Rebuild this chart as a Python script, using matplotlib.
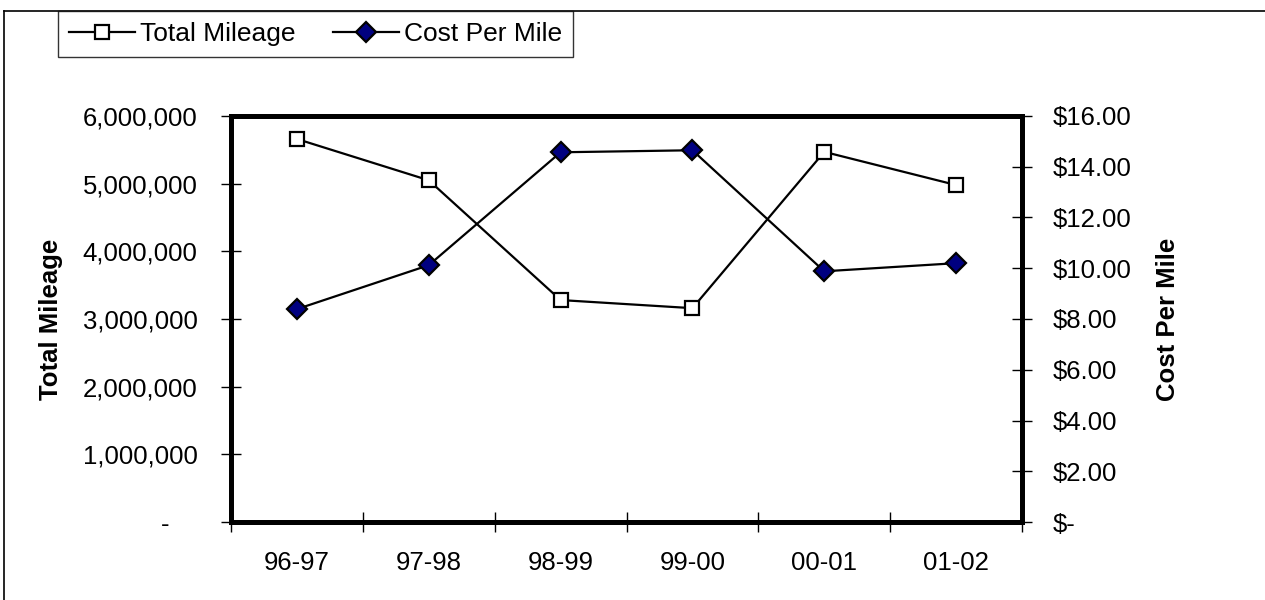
import matplotlib.pyplot as plt
from matplotlib.lines import Line2D

plt.rcParams['font.family'] = ['Liberation Sans', 'DejaVu Sans']

# data
years = ['96-97', '97-98', '98-99', '99-00', '00-01', '01-02']
total_mileage = [5660000, 5050000, 3280000, 3160000, 5470000, 4980000]
cost_per_mile = [8.39, 10.12, 14.57, 14.65, 9.88, 10.20]

mileage_ticks = [0, 1000000, 2000000, 3000000, 4000000, 5000000, 6000000]
mileage_labels = ['-    ', '1,000,000', '2,000,000', '3,000,000',
                  '4,000,000', '5,000,000', '6,000,000']
cost_ticks = [0, 2, 4, 6, 8, 10, 12, 14, 16]
cost_labels = ['$-', '$2.00', '$4.00', '$6.00', '$8.00', '$10.00',
               '$12.00', '$14.00', '$16.00']

fs = 18.5

fig = plt.figure(figsize=(12.65, 6.0), dpi=100)
ax = fig.add_axes([231 / 1265, 78 / 600, (1022 - 231) / 1265, (522 - 116) / 600])
ax2 = ax.twinx()

x = [i + 0.5 for i in range(len(years))]

ax.plot(x, total_mileage, color='black', lw=1.6, marker='s', ms=10,
        mfc='white', mec='black', mew=1.6, zorder=3)
ax2.plot(x, cost_per_mile, color='black', lw=1.6, marker='D', ms=10,
         mfc='#000080', mec='black', mew=1.6, zorder=3)

ax.set_xlim(0, len(years))
ax.set_ylim(0, 6000000)
ax2.set_ylim(0, 16)

# category boundaries get the ticks, labels sit in the middle
ax.set_xticks(range(len(years) + 1))
ax.set_xticklabels([])
ax.set_xticks(x, minor=True)
ax.set_xticklabels(years, minor=True, fontsize=fs)
ax.tick_params(axis='x', which='major', direction='inout', length=14, width=1)
ax.tick_params(axis='x', which='minor', length=0, pad=21)

ax.set_yticks(mileage_ticks)
ax.set_yticklabels(mileage_labels, fontsize=fs)
ax.tick_params(axis='y', direction='inout', length=14, width=1, pad=17)

ax2.set_yticks(cost_ticks)
ax2.set_yticklabels(cost_labels, fontsize=fs)
ax2.tick_params(axis='y', direction='inout', length=14, width=1, pad=15)

for a in (ax, ax2):
    for s in a.spines.values():
        s.set_linewidth(3.5)

ax.set_ylabel('Total Mileage', fontsize=fs, fontweight='bold', labelpad=14)
ax2.set_ylabel('Cost Per Mile', fontsize=fs, fontweight='bold', labelpad=18)

handles = [
    Line2D([], [], color='black', lw=1.6, marker='s', ms=10, mfc='white',
           mec='black', mew=1.6),
    Line2D([], [], color='black', lw=1.6, marker='D', ms=10, mfc='#000080',
           mec='black', mew=1.6),
]
leg = fig.legend(handles, ['Total Mileage', 'Cost Per Mile'], ncol=2,
                 loc='upper left', bbox_to_anchor=(58 / 1265, 1 - 11 / 600),
                 fontsize=19, frameon=True, fancybox=False, shadow=False,
                 handlelength=2.5, handletextpad=0.2, columnspacing=1.4,
                 borderpad=0.42, borderaxespad=0)
leg.get_frame().set_edgecolor('black')
leg.get_frame().set_linewidth(1.0)

# outer chart border (only top and left visible)
fig.add_artist(Line2D([4 / 1265, 4 / 1265], [0, 1 - 11 / 600],
                      transform=fig.transFigure, color='black', lw=1.2))
fig.add_artist(Line2D([4 / 1265, 1], [1 - 11 / 600, 1 - 11 / 600],
                      transform=fig.transFigure, color='black', lw=1.2))

fig.savefig('out.png', dpi=100)
